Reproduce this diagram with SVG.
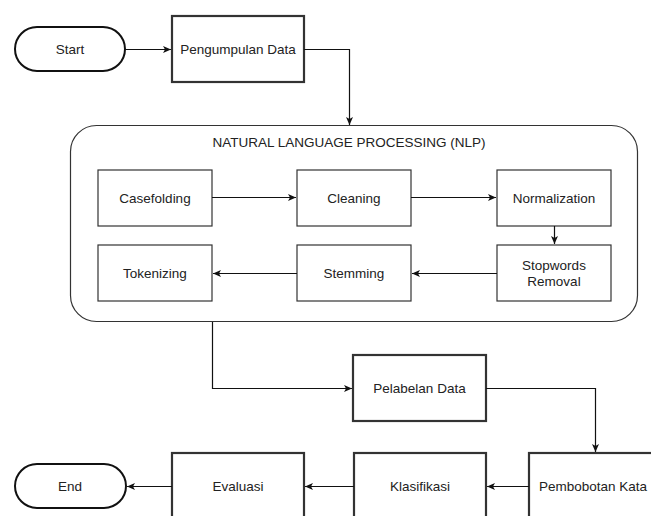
<svg xmlns="http://www.w3.org/2000/svg" width="651" height="516" viewBox="0 0 651 516">
<style>
  text { font-family: "Liberation Sans", Arial, sans-serif; font-size: 13.5px; fill: #222; text-anchor: middle; dominant-baseline: central; }
  .term { fill: #fff; stroke: #111; stroke-width: 2; }
  .main { fill: #fff; stroke: #333; stroke-width: 2.2; }
  .step { fill: #fff; stroke: #333; stroke-width: 1.2; }
  .group { fill: #fff; stroke: #333; stroke-width: 1.2; }
  .conn { fill: none; stroke: #111; stroke-width: 1.2; marker-end: url(#arr); }
</style>
<defs>
  <marker id="arr" viewBox="0 0 8 8" markerWidth="8" markerHeight="8" refX="8" refY="4" orient="auto" markerUnits="userSpaceOnUse">
    <path d="M0,0.5 L8,4 L0,7.5 L2,4 Z" fill="#111"/>
  </marker>
</defs>
<rect width="651" height="516" fill="#fff"/>

<g id="nlp">
  <rect class="group" x="70.5" y="125.5" width="567" height="196" rx="26" ry="26"/>
  <text x="349" y="142">NATURAL LANGUAGE PROCESSING (NLP)</text>
</g>

<g id="start">
  <rect class="term" x="15" y="27" width="110" height="44" rx="22" ry="22"/>
  <text x="70" y="49">Start</text>
</g>
<g id="pengumpulan">
  <rect class="main" x="172" y="16" width="132" height="66"/>
  <text x="238" y="49">Pengumpulan Data</text>
</g>

<g id="casefolding">
  <rect class="step" x="98" y="170" width="114" height="56"/>
  <text x="155" y="198">Casefolding</text>
</g>
<g id="cleaning">
  <rect class="step" x="297" y="170" width="114" height="56"/>
  <text x="354" y="198">Cleaning</text>
</g>
<g id="normalization">
  <rect class="step" x="497" y="170" width="114" height="56"/>
  <text x="554" y="198">Normalization</text>
</g>
<g id="stopwords">
  <rect class="step" x="497" y="245" width="114" height="56"/>
  <text x="554" y="265">Stopwords</text>
  <text x="554" y="281">Removal</text>
</g>
<g id="stemming">
  <rect class="step" x="297" y="245" width="114" height="56"/>
  <text x="354" y="273">Stemming</text>
</g>
<g id="tokenizing">
  <rect class="step" x="98" y="245" width="114" height="56"/>
  <text x="155" y="273">Tokenizing</text>
</g>

<g id="pelabelan">
  <rect class="main" x="353" y="355" width="133" height="66"/>
  <text x="419.5" y="388">Pelabelan Data</text>
</g>
<g id="pembobotan">
  <rect class="main" x="529" y="453" width="132" height="66"/>
  <text x="593" y="486">Pembobotan Kata</text>
</g>
<g id="klasifikasi">
  <rect class="main" x="354" y="453" width="132" height="66"/>
  <text x="420" y="486">Klasifikasi</text>
</g>
<g id="evaluasi">
  <rect class="main" x="172" y="453" width="132" height="66"/>
  <text x="238" y="486">Evaluasi</text>
</g>
<g id="end">
  <rect class="term" x="15" y="464" width="111" height="44" rx="22" ry="22"/>
  <text x="70" y="486">End</text>
</g>

<g id="connectors">
  <path class="conn" d="M125,49.5 L171,49.5"/>
  <path class="conn" d="M304,49.5 L349.5,49.5 L349.5,125"/>
  <path class="conn" d="M212,197.5 L296,197.5"/>
  <path class="conn" d="M411,197.5 L496,197.5"/>
  <path class="conn" d="M554.5,226 L554.5,244"/>
  <path class="conn" d="M497,273.5 L412,273.5"/>
  <path class="conn" d="M297,273.5 L213,273.5"/>
  <path class="conn" d="M212.5,322 L212.5,388.5 L352,388.5"/>
  <path class="conn" d="M486,388.5 L595.5,388.5 L595.5,452"/>
  <path class="conn" d="M529,486.5 L487,486.5"/>
  <path class="conn" d="M354,486.5 L305,486.5"/>
  <path class="conn" d="M172,486.5 L127,486.5"/>
</g>
</svg>
